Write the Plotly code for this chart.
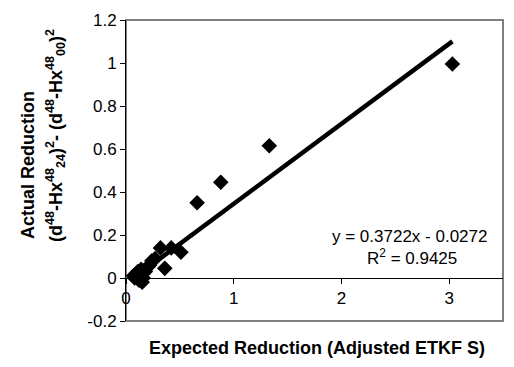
import plotly.graph_objects as go

expected = [0.07, 0.08, 0.10, 0.11, 0.12, 0.13, 0.14, 0.15, 0.16, 0.18, 0.20, 0.22,
            0.24, 0.27, 0.32, 0.36, 0.42, 0.51, 0.66, 0.88, 1.33, 3.03]
actual = [0.01, 0.00, 0.02, 0.03, -0.01, 0.01, 0.04, -0.02, 0.00, 0.03, 0.05, 0.06,
          0.08, 0.09, 0.14, 0.045, 0.14, 0.12, 0.35, 0.445, 0.615, 0.995]
slope = 0.3722
intercept = -0.0272
r2 = 0.9425

x_ticks = [0, 1, 2, 3]
y_ticks = [-0.2, 0, 0.2, 0.4, 0.6, 0.8, 1.0, 1.2]
y_tick_text = ["-0.2", "0", "0.2", "0.4", "0.6", "0.8", "1", "1.2"]

FONT = "Liberation Sans, Arial, sans-serif"
TICK = 17
TITLE = 18
ANN = 17

xmin, xmax = min(expected), max(expected)
trend_x = [xmin, xmax]
trend_y = [slope * v + intercept for v in trend_x]

fig = go.Figure()
fig.add_trace(go.Scatter(x=trend_x, y=trend_y, mode="lines",
                         line=dict(color="black", width=4.5), hoverinfo="skip"))
fig.add_trace(go.Scatter(x=expected, y=actual, mode="markers",
                         marker=dict(symbol="diamond", size=12, color="black")))

yr = (-0.2, 1.2)
zero_pos = (0 - yr[0]) / (yr[1] - yr[0])

fig.update_layout(
    width=514, height=367,
    margin=dict(l=126, r=11, t=20, b=46),
    paper_bgcolor="white", plot_bgcolor="white",
    showlegend=False,
    font=dict(family=FONT, size=TICK, color="black"),
    xaxis=dict(range=[0, 3.5], tickvals=x_ticks, ticktext=[str(t) for t in x_ticks],
               showgrid=False, zeroline=False, showline=True, linecolor="black",
               linewidth=1, ticks="outside", ticklen=5, tickcolor="black",
               anchor="free", position=zero_pos,
               tickfont=dict(family=FONT, size=TICK, color="black")),
    yaxis=dict(range=list(yr), tickvals=y_ticks, ticktext=y_tick_text,
               showgrid=False, zeroline=False, showline=True, linecolor="black",
               linewidth=1, ticks="outside", ticklen=5, tickcolor="black",
               tickfont=dict(family=FONT, size=TICK, color="black")),
    shapes=[dict(type="rect", xref="paper", yref="paper", x0=0, y0=0, x1=1, y1=1,
                 line=dict(color="#808080", width=2), layer="below")],
)

fig.add_annotation(text="<b>Actual Reduction</b>", xref="paper", yref="paper",
                   x=(28 - 126) / 377, y=(321 - 165) / 301, textangle=-90,
                   showarrow=False, xanchor="center", yanchor="middle",
                   font=dict(family=FONT, size=TITLE))
fig.add_annotation(
    text="<b>(d<sup>48</sup>-Hx<sup>48</sup><sub>24</sub>)<sup>2</sup>- (d<sup>48</sup>-Hx<sup>48</sup><sub>00</sub>)<sup>2</sup></b>",
    xref="paper", yref="paper", x=(55 - 126) / 377, y=(321 - 136) / 301, textangle=-90,
    showarrow=False, xanchor="center", yanchor="middle", font=dict(family=FONT, size=TITLE))
fig.add_annotation(text="<b>Expected Reduction (Adjusted ETKF S)</b>", xref="paper",
                   yref="paper", x=(317 - 126) / 377, y=(321 - 348) / 301, showarrow=False,
                   xanchor="center", yanchor="middle", font=dict(family=FONT, size=TITLE))
fig.add_annotation(text=f"y = {slope}x - {abs(intercept)}", xref="paper", yref="paper",
                   x=(489 - 126) / 377, y=(321 - 237) / 301, showarrow=False,
                   xanchor="right", yanchor="middle", font=dict(family=FONT, size=ANN))
fig.add_annotation(text=f"R<sup>2</sup> = {r2}", xref="paper", yref="paper",
                   x=(459 - 126) / 377, y=(321 - 257) / 301, showarrow=False,
                   xanchor="right", yanchor="middle", font=dict(family=FONT, size=ANN))

fig.write_html("out.html")
